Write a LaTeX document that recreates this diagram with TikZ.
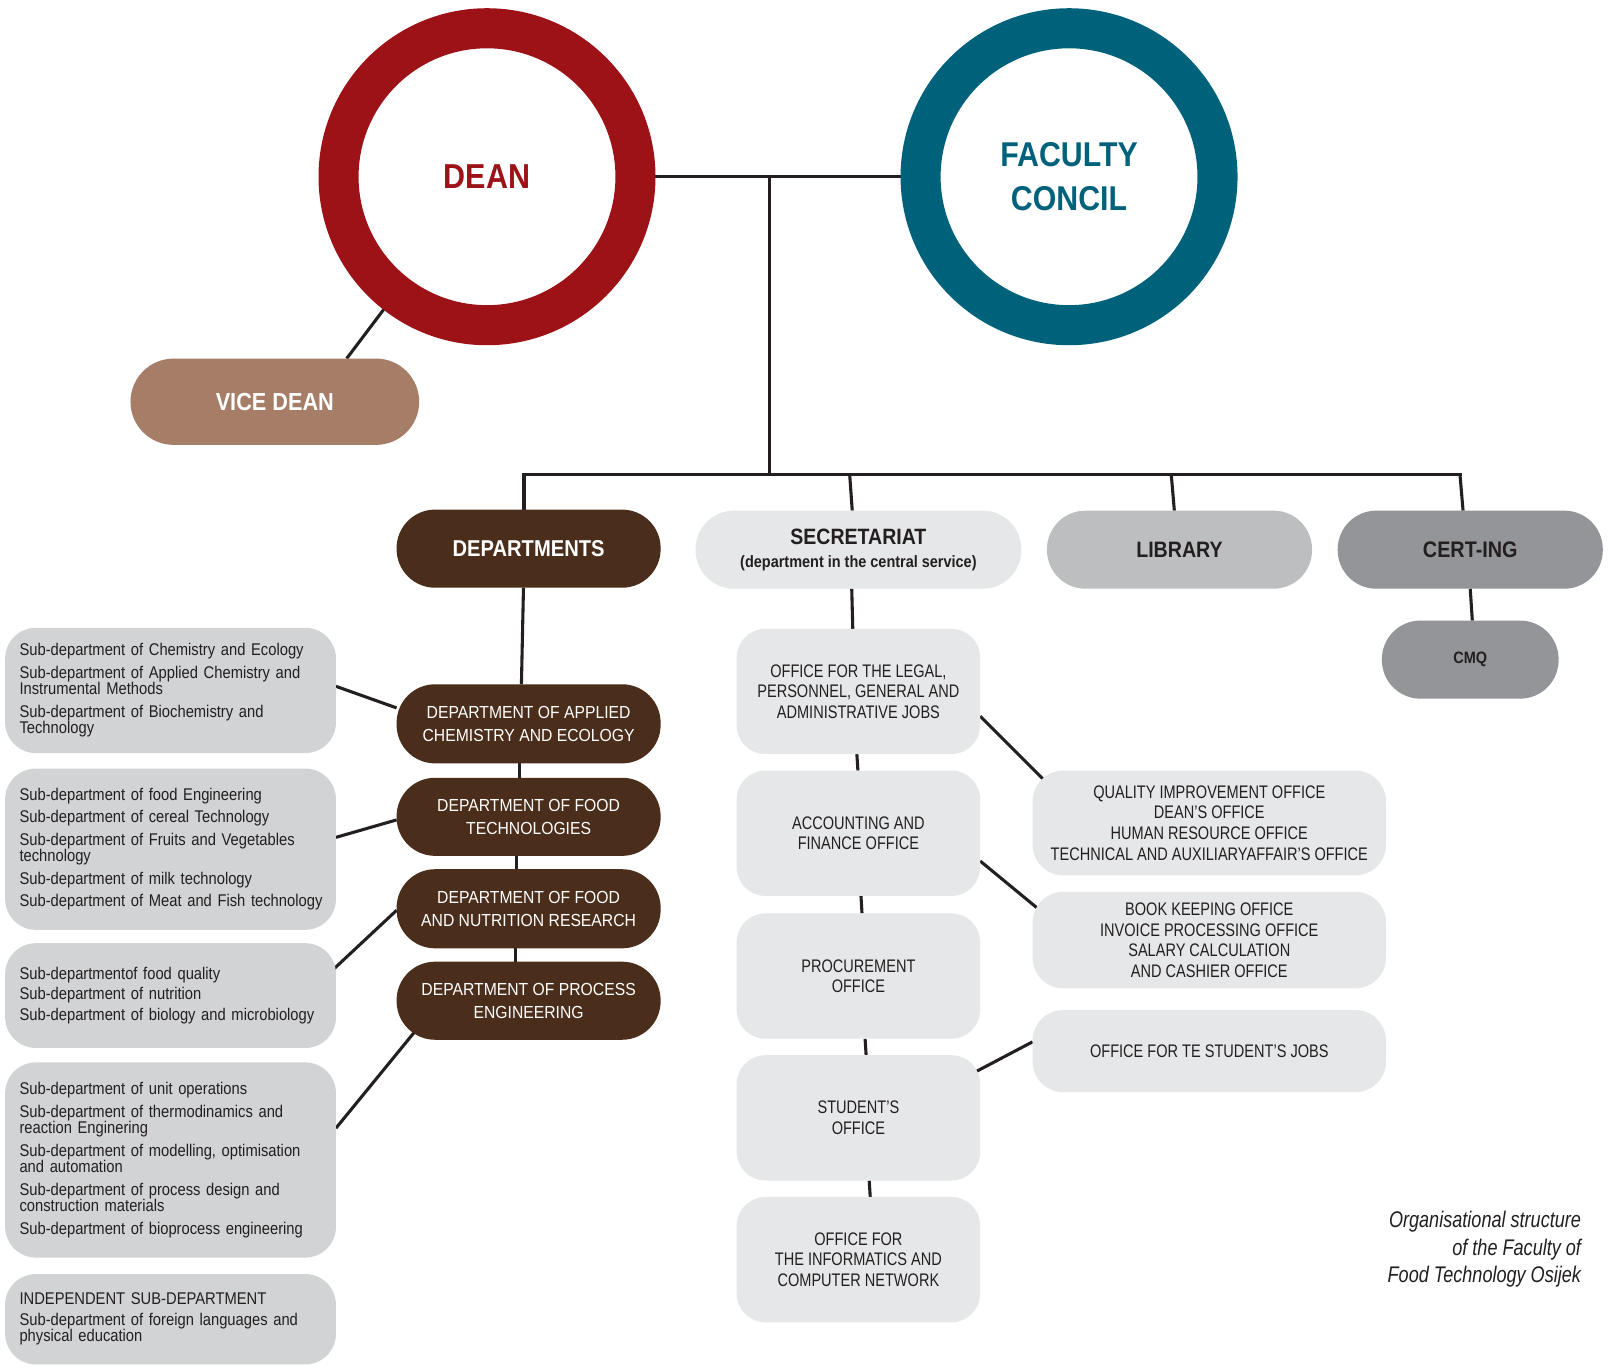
\documentclass[tikz,border=0pt]{standalone}
\usepackage{fontspec}
\setmainfont{Liberation Sans}
\newfontfamily\subf[FakeStretch=0.87]{Liberation Sans}
\newfontfamily\capf[FakeStretch=0.8]{Liberation Sans}
\newfontfamily\depf[FakeStretch=0.9]{Liberation Sans}
\newfontfamily\headf[FakeStretch=0.88]{Liberation Sans}
\newfontfamily\captf[FakeStretch=0.8]{Liberation Sans}
\usetikzlibrary{positioning}
\definecolor{deanred}{HTML}{9C1216}
\definecolor{fcteal}{HTML}{00627A}
\definecolor{vdbrown}{HTML}{A67E68}
\definecolor{depbrown}{HTML}{4A2D1B}
\definecolor{grA}{HTML}{D1D3D4}
\definecolor{grB}{HTML}{E6E7E8}
\definecolor{grC}{HTML}{BCBEC0}
\definecolor{grD}{HTML}{939598}
\definecolor{ink}{HTML}{231F20}
\pgfdeclarelayer{bg}
\pgfsetlayers{bg,main}
\begin{document}
\begin{tikzpicture}[x=1pt,y=-1pt,
  conn/.style={draw=ink, line width=3pt},
  box/.style={rectangle, inner sep=0pt, outer sep=0pt, text=ink, align=center},
  pill/.style={box, rounded corners=37.5pt, minimum height=76pt},
  deppill/.style={pill, fill=depbrown, text=white, minimum width=257pt,
     font=\depf\fontsize{17}{22}\selectfont},
  subbox/.style={box, fill=grA, rounded corners=30pt, align=left, text width=294pt,
     inner xsep=14pt, font=\subf\fontsize{16.5}{16}\selectfont},
  midbox/.style={box, fill=grB, rounded corners=28pt, minimum width=237pt, minimum height=122pt,
     font=\capf\fontsize{17.7}{20}\selectfont},
  rbox/.style={box, fill=grB, rounded corners=30pt, minimum width=344pt,
     font=\capf\fontsize{17.7}{20}\selectfont},
  ring/.style={circle, line width=39pt, minimum size=289pt, inner sep=0pt, outer sep=0pt, align=center}
]
\useasboundingbox (0,0) rectangle (1568,1331);
\begin{pgfonlayer}{bg}
\fill[white] (0,0) rectangle (1568,1331);
\end{pgfonlayer}

% top circles
\node[ring, draw=deanred, text=deanred, font=\headf\bfseries\fontsize{33.7}{40}\selectfont] (dean) at (474,172) {DEAN};
\node[ring, draw=fcteal, text=fcteal, font=\headf\bfseries\fontsize{33.5}{43}\selectfont] (fac) at (1040.5,172) {FACULTY\\CONCIL};

\node[pill, fill=vdbrown, text=white, minimum width=281pt, minimum height=84pt, rounded corners=42pt,
  font=\headf\bfseries\fontsize{24}{28}\selectfont] (vice) at (267.5,391) {VICE DEAN};

% second level
\node[pill, fill=depbrown, text=white, minimum width=257pt,
  font=\headf\bfseries\fontsize{22.3}{26}\selectfont] (depts) at (514.5,534) {DEPARTMENTS};
\node[pill, fill=grB, minimum width=317pt,
  font=\headf\bfseries\fontsize{21.6}{24}\selectfont] (secr) at (835.5,535)
  {SECRETARIAT\\[-2pt]{\fontsize{16}{24}\selectfont(department in the central service)}};
\node[pill, fill=grC, minimum width=258pt,
  font=\headf\bfseries\fontsize{21.7}{26}\selectfont] (lib) at (1148,535) {LIBRARY};
\node[pill, fill=grD, minimum width=258pt,
  font=\headf\bfseries\fontsize{21.9}{26}\selectfont] (cert) at (1431,535) {CERT-ING};
\node[pill, fill=grD, minimum width=172pt,
  font=\headf\bfseries\fontsize{16}{20}\selectfont] (cmq) at (1431,642) {CMQ};

% departments
\node[deppill, minimum height=77pt] (d1) at (514.5,704.5) {DEPARTMENT OF APPLIED\\CHEMISTRY AND ECOLOGY};
\node[deppill] (d2) at (514.5,795) {DEPARTMENT OF FOOD\\TECHNOLOGIES};
\node[deppill, minimum height=77pt] (d3) at (514.5,884.5) {DEPARTMENT OF FOOD\\AND NUTRITION RESEARCH};
\node[deppill] (d4) at (514.5,974) {DEPARTMENT OF PROCESS\\ENGINEERING};

% sub-departments
\node[subbox, minimum height=122pt] (s1) at (166,672) {\mbox{Sub-department of Chemistry and Ecology}\\[6pt]
  \mbox{Sub-department of Applied Chemistry and}\\Instrumental Methods\\[6pt]
  Sub-department of Biochemistry and\\Technology};
\node[subbox, minimum height=157pt] (s2) at (166,826.5) {Sub-department of food Engineering\\[6pt]
  Sub-department of cereal Technology\\[6pt]
  \mbox{Sub-department of Fruits and Vegetables}\\technology\\[6pt]
  Sub-department of milk technology\\[6pt]
  \mbox{Sub-department of Meat and Fish technology}};
\node[subbox, minimum height=102pt] (s3) at (166,969) {Sub-departmentof food quality\\[4pt]
  Sub-department of nutrition\\[4pt]
  \mbox{Sub-department of biology and microbiology}};
\node[subbox, minimum height=190pt] (s4) at (166,1129) {Sub-department of unit operations\\[6pt]
  \mbox{Sub-department of thermodinamics and}\\reaction Enginering\\[6pt]
  \mbox{Sub-department of modelling, optimisation}\\and automation\\[6pt]
  \mbox{Sub-department of process design and}\\construction materials\\[6pt]
  \mbox{Sub-department of bioprocess engineering}};
\node[subbox, minimum height=88pt] (s5) at (166,1284) {INDEPENDENT SUB-DEPARTMENT\\[4pt]
  \mbox{Sub-department of foreign languages and}\\physical education};

% secretariat offices
\node[midbox] (m1) at (835.5,673) {OFFICE FOR THE LEGAL,\\PERSONNEL, GENERAL AND\\ADMINISTRATIVE JOBS};
\node[midbox] (m2) at (835.5,811) {ACCOUNTING AND\\FINANCE OFFICE};
\node[midbox] (m3) at (835.5,950) {PROCUREMENT\\OFFICE};
\node[midbox] (m4) at (835.5,1088) {STUDENT’S\\OFFICE};
\node[midbox] (m5) at (835.5,1226) {OFFICE FOR\\THE INFORMATICS AND\\COMPUTER NETWORK};

\node[rbox, minimum height=102pt] (r1) at (1177,801) {QUALITY IMPROVEMENT OFFICE\\DEAN’S OFFICE\\HUMAN RESOURCE OFFICE\\TECHNICAL AND AUXILIARYAFFAIR’S OFFICE};
\node[rbox, minimum height=94pt] (r2) at (1177,915) {BOOK KEEPING OFFICE\\INVOICE PROCESSING OFFICE\\SALARY CALCULATION\\AND CASHIER OFFICE};
\node[rbox, minimum height=80pt] (r3) at (1177,1023) {OFFICE FOR TE STUDENT’S JOBS};

% caption
\node[anchor=east, align=right, inner sep=0pt, text=ink,
  font=\captf\itshape\fontsize{22}{27}\selectfont] (cap) at (1539,1216)
  {Organisational structure\\of the Faculty of\\Food Technology Osijek};

% connectors
\coordinate (j) at (749,172);
\coordinate (jb) at (749,462);
\coordinate (bl) at (510,462);
\coordinate (br) at (1421,462);
\coordinate (t2) at (827,462);
\coordinate (t3) at (1140,462);
\begin{pgfonlayer}{bg}
\draw[conn] (dean.east) -- (fac.west);
\draw[conn] (j) -- (jb);
\draw[conn, line cap=rect] (bl) -- (br);
\draw[conn] (bl) -- (bl |- depts.north);
\draw[conn] (t2) -- ([xshift=-6pt]secr.north);
\draw[conn] (t3) -- ([xshift=-5pt]lib.north);
\draw[conn] (br) -- ([xshift=-7pt]cert.north);
\draw[conn] ([xshift=0pt]cert.south) -- ([xshift=2pt]cmq.north);
\draw[conn] (dean.232) -- (vice.31.5);

\draw[conn] ([xshift=-5pt]depts.south) -- ([xshift=-7pt]d1.north);
\draw[conn] ([xshift=-9pt]d1.south) -- ([xshift=-9pt]d2.north);
\draw[conn] ([xshift=-12pt]d2.south) -- ([xshift=-12pt]d3.north);
\draw[conn] ([xshift=-13pt]d3.south) -- ([xshift=-13pt]d4.north);

\draw[conn] ([yshift=4pt]s1.east) -- ([yshift=15.5pt]d1.west);
\draw[conn] ([yshift=11.5pt]s2.east) -- ([yshift=-3pt]d2.west);
\draw[conn] ([xshift=-2pt,yshift=26pt]s3.east) -- ([yshift=-1.5pt]d3.west);
\draw[conn] ([yshift=31pt]s4.east) -- ([xshift=17pt,yshift=-31pt]d4.west);

\draw[conn] ([xshift=-6.5pt]secr.south) -- ([xshift=-5.5pt]m1.north);
\draw[conn] ([xshift=-1.5pt]m1.south) -- ([xshift=-0.5pt]m2.north);
\draw[conn] ([xshift=2.5pt]m2.south) -- ([xshift=3.5pt]m3.north);
\draw[conn] ([xshift=6.5pt]m3.south) -- ([xshift=7.5pt]m4.north);
\draw[conn] ([xshift=10.5pt]m4.south) -- ([xshift=11.5pt]m5.north);

\draw[conn] ([yshift=-24pt]m1.east) -- ([xshift=12pt,yshift=41pt]r1.west);
\draw[conn] ([yshift=-27pt]m2.east) -- ([xshift=6pt,yshift=30pt]r2.west);
\draw[conn] ([xshift=-6pt,yshift=44pt]m4.east) -- ([yshift=9pt]r3.west);
\end{pgfonlayer}
\end{tikzpicture}
\end{document}
